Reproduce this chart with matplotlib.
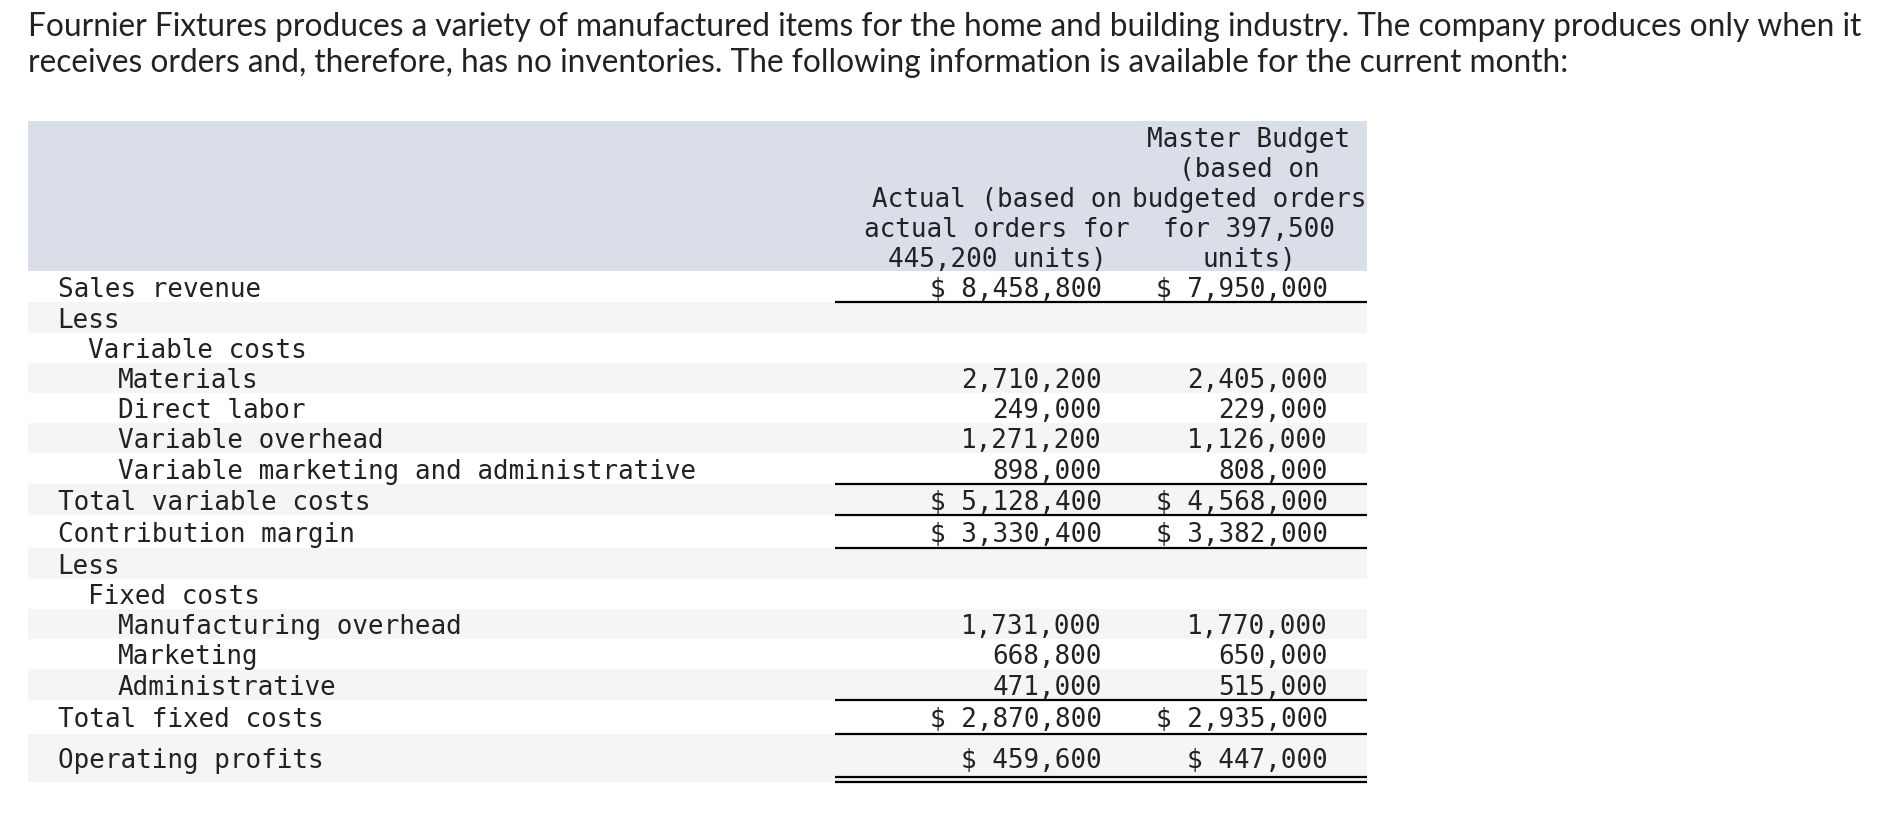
import matplotlib
matplotlib.use("Agg")
import matplotlib.pyplot as plt
from matplotlib.patches import Rectangle

# ---------------- data ----------------
intro_lines = [
    "Fournier Fixtures produces a variety of manufactured items for the home and building industry. The company produces only when it",
    "receives orders and, therefore, has no inventories. The following information is available for the current month:",
]
header_actual = ["Actual (based on", "actual orders for", "445,200 units)"]
header_budget = ["Master Budget", "(based on", "budgeted orders", "for 397,500", "units)"]

row_labels = ["Sales revenue", "Less", "Variable costs", "Materials", "Direct labor",
              "Variable overhead", "Variable marketing and administrative",
              "Total variable costs", "Contribution margin", "Less", "Fixed costs",
              "Manufacturing overhead", "Marketing", "Administrative",
              "Total fixed costs", "Operating profits"]
row_indent = [0, 0, 1, 2, 2, 2, 2, 0, 0, 0, 1, 2, 2, 2, 0, 0]
actual_values = [8458800, None, None, 2710200, 249000, 1271200, 898000,
                 5128400, 3330400, None, None, 1731000, 668800, 471000,
                 2870800, 459600]
budget_values = [7950000, None, None, 2405000, 229000, 1126000, 808000,
                 4568000, 3382000, None, None, 1770000, 650000, 515000,
                 2935000, 447000]
dollar_rows = [True, False, False, False, False, False, False,
               True, True, False, False, False, False, False, True, True]

# ---------------- layout (pixels) ----------------
W, H = 1880, 818
row_edges = [271, 302, 333, 363, 393, 423, 453, 484, 515, 548, 579, 609,
             639, 669, 700, 734, 782]
single_rules = [302, 484, 515, 548, 700, 734]
double_rules = [777, 781.5]
table_left, table_right = 27.6, 1367
num_left = 834.5
header_top = 121
label_x0, indent_step = 57.5, 30
col1_right, col2_right = 1102, 1327.5
col1_center, col2_center = 997, 1249
header_line_centers = [137.5, 167.5, 197.5, 227.5, 257.5]

text_color = "#222222"
header_bg = "#D9DEE8"
stripe_bg = "#F5F5F5"
mono = "DejaVu Sans Mono"
mono_px = 26.0                      # em size in pixels
mono_pt = mono_px * 72 / 100
cap_half = 0.729 * mono_px / 2

fig = plt.figure(figsize=(W / 100, H / 100), dpi=100)
ax = fig.add_axes([0, 0, 1, 1])
ax.set_xlim(0, W)
ax.set_ylim(H, 0)
ax.axis("off")

# intro paragraph
intro_baselines = [36.5, 71.5]
t0 = ax.text(27.6, intro_baselines[0], intro_lines[0], fontsize=18,
             family="Lato", color=text_color, va="baseline", ha="left")
fig.canvas.draw()
bb = t0.get_window_extent(renderer=fig.canvas.get_renderer())
intro_fs = 18 * (1830 / bb.width)
t0.set_fontsize(intro_fs)
ax.text(27.6, intro_baselines[1], intro_lines[1], fontsize=intro_fs,
        family="Lato", color=text_color, va="baseline", ha="left")

# header band
ax.add_patch(Rectangle((table_left, header_top), table_right - table_left,
                       row_edges[0] - header_top, facecolor=header_bg,
                       edgecolor="none", zorder=0))
for i, line in enumerate(header_budget):
    ax.text(col2_center, header_line_centers[i] + cap_half, line, family=mono,
            fontsize=mono_pt, color=text_color, ha="center", va="baseline")
off = len(header_line_centers) - len(header_actual)
for i, line in enumerate(header_actual):
    ax.text(col1_center, header_line_centers[off + i] + cap_half, line,
            family=mono, fontsize=mono_pt, color=text_color, ha="center",
            va="baseline")

# body rows
def fmt(v, dollar):
    if v is None:
        return ""
    s = f"{v:,}"
    return f"$ {s}" if dollar else s

for i, label in enumerate(row_labels):
    top, bot = row_edges[i], row_edges[i + 1]
    if i % 2 == 1:
        ax.add_patch(Rectangle((table_left, top), table_right - table_left,
                               bot - top, facecolor=stripe_bg,
                               edgecolor="none", zorder=0))
    yb = (top + bot) / 2 + cap_half + 0.8
    ax.text(label_x0 + indent_step * row_indent[i], yb, label, family=mono,
            fontsize=mono_pt, color=text_color, ha="left", va="baseline")
    ax.text(col1_right, yb, fmt(actual_values[i], dollar_rows[i]), family=mono,
            fontsize=mono_pt, color=text_color, ha="right", va="baseline")
    ax.text(col2_right, yb, fmt(budget_values[i], dollar_rows[i]), family=mono,
            fontsize=mono_pt, color=text_color, ha="right", va="baseline")

ax.hlines(single_rules + double_rules, num_left, table_right, colors="black",
          linewidth=1.6, zorder=3)

fig.savefig("out.png", dpi=100, facecolor="white")
